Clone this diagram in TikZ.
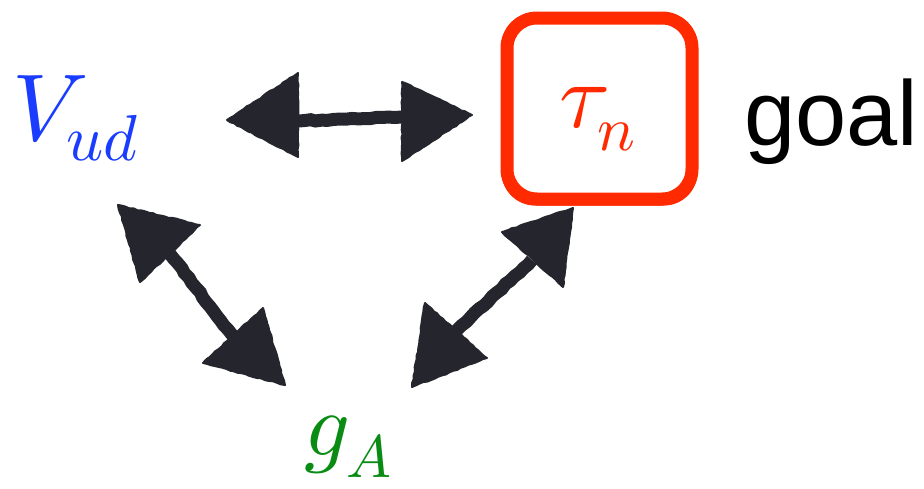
\documentclass[tikz,border=0pt]{standalone}
\usepackage{graphicx}
\usepackage{fontspec}
\newfontfamily\goalfont{Liberation Sans}
\usetikzlibrary{decorations.pathmorphing}
\definecolor{inkdark}{HTML}{25252E}
\definecolor{boxred}{HTML}{FF2A00}
\definecolor{vblue}{HTML}{1A3CFF}
\definecolor{ggreen}{HTML}{0A8C14}
\tikzset{
  headfill/.style={fill=inkdark, draw=inkdark, line width=2pt, line join=round,
    decorate, decoration={random steps, segment length=4pt, amplitude=0.6pt}},
  shaftline/.style={draw=inkdark, line width=13pt,
    decorate, decoration={random steps, segment length=6pt, amplitude=0.8pt}},
  redmain/.style={draw=boxred, rounded corners=30pt, line width=13pt},
  redthin/.style={draw=boxred, rounded corners=32pt, line width=3pt},
  lbl/.style={inner sep=0pt, anchor=base west},
}
\begin{document}
\begin{tikzpicture}[x=1pt,y=-1pt]
\useasboundingbox (0,0) rectangle (924,488);
% labels
\node[lbl, text=vblue] (V) at (12,140) {\scalebox{9.5}{$V$}};
\node[lbl, text=vblue] (ud) at (66,160) {\scalebox{6.5}{$ud$}};
\node[lbl, text=boxred] (tau) at (559,127) {\scalebox{9.3}{$\tau$}};
\node[lbl, text=boxred] (n) at (597,150) {\scalebox{6.3}{$n$}};
\node[lbl, text=ggreen] (g) at (304,455) {\scalebox{9}{$g$}};
\node[lbl, text=ggreen] (A) at (346,477) {\scalebox{6}{$A$}};
\node[lbl] (goal) at (744,145) {\fontsize{92}{92}\selectfont\goalfont goal};
% red box
\draw[redmain] (507,18) rectangle (692,199);
\draw[redthin] (503,14) rectangle (696,204);
% horizontal arrow
\coordinate (h1) at (298,121);
\coordinate (h2) at (402,117);
\draw[shaftline] (h1) -- (h2);
\filldraw[headfill] (227,120) -- (298,73) -- (298,157) -- cycle;
\filldraw[headfill] (472,115) -- (402,82) -- (402,161) -- cycle;
% left diagonal arrow
\coordinate (l1) at (170,254);
\coordinate (l2) at (233,336);
\draw[shaftline] (l1) -- (l2);
\filldraw[headfill] (118,205) -- (200,225) -- (140,282) -- cycle;
\filldraw[headfill] (285,385) -- (263,308) -- (203,363) -- cycle;
% right diagonal arrow
\coordinate (r1) at (532,260);
\coordinate (r2) at (456,331);
\draw[shaftline] (r1) -- (r2);
\filldraw[headfill] (573,208) -- (502,232) -- (563,287) -- cycle;
\filldraw[headfill] (412,387) -- (425,303) -- (487,358) -- cycle;
\end{tikzpicture}
\end{document}
